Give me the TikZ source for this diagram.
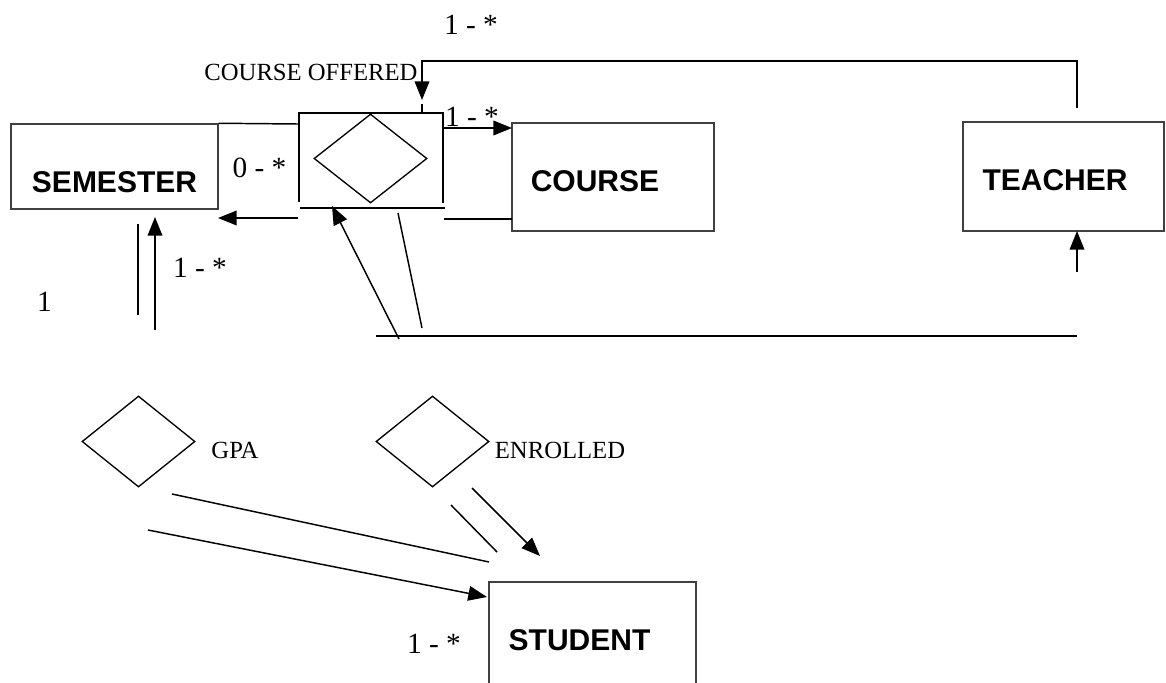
\documentclass[tikz,border=0pt]{standalone}
\usepackage{fontspec}
\setmainfont{Liberation Serif}
\setsansfont{Liberation Sans}
\usetikzlibrary{arrows.meta, shapes.geometric}

\begin{document}
\begin{tikzpicture}[x=0.75pt,y=-0.75pt,>={Triangle[length=14pt,width=11pt]},
  entity/.style={draw=black!75, line width=1.1pt, rectangle, inner sep=0pt},
  enttext/.style={font=\sffamily\bfseries\fontsize{22.5}{26}\selectfont, inner sep=0pt},
  relation/.style={draw, diamond, line width=1pt, inner sep=0pt, minimum width=84.75pt, minimum height=68.25pt},
  reltext/.style={font=\fontsize{18.5}{22}\selectfont, inner sep=0pt},
  card/.style={font=\fontsize{22}{26}\selectfont, inner sep=0pt},
  link/.style={line width=1.1pt}]

\clip (0,0) rectangle (1166,682);

% Entities
\node[entity, minimum width=155.25pt, minimum height=63.75pt] (semester) at (114.5,166.5) {};
\node[enttext] (semtext) at (114.5,182) {SEMESTER};

\node[entity, minimum width=151.5pt, minimum height=81pt] (course) at (613,177) {};
\node[enttext] (coutext) at (595,181) {COURSE};

\node[entity, minimum width=150.75pt, minimum height=81.75pt] (teacher) at (1063.5,176.5) {};
\node[enttext] (teatext) at (1055,180) {TEACHER};

\node[entity, minimum width=155.25pt, minimum height=103.5pt] (student) at (592.5,651) {};
\node[enttext] (stutext) at (579.5,640) {STUDENT};

% Relationships
\node[relation, minimum height=66.75pt] (offered) at (370.5,158.5) {};
\draw[link] (299,202) |- (443,113) -- (443,203);
\draw[link] (300,208) -- (445,208);
\node[reltext] (offtext) at (311,72) {COURSE OFFERED};

\node[relation] (gpa) at (138.5,441.5) {};
\node[reltext] (gpatext) at (235,450) {GPA};

\node[relation] (enrolled) at (432.5,441.5) {};
\node[reltext] (enrtext) at (560,450) {ENROLLED};

% Cardinalities
\node[card] (c1) at (471,25) {1 - *};
\node[card] (c2) at (472,117) {1 - *};
\node[card] (c3) at (259.5,168) {0 - *};
\node[card] (c4) at (200,268) {1 - *};
\node[card] (c5) at (44.5,302) {1};
\node[card] (c6) at (434,644) {1 - *};

% Connection points
\coordinate (offW) at (298,218);
\coordinate (semE) at (218,218);
\coordinate (offNW) at (298,124);
\coordinate (offE) at (444,128);
\coordinate (couW) at (512,128);
\coordinate (offSE) at (444,219);
\coordinate (couSW) at (512,219);
\coordinate (teaN) at (1077,108);
\coordinate (loopR) at (1077,61);
\coordinate (offN) at (422,100);
\coordinate (tickA) at (422,104);
\coordinate (tickB) at (422,112.5);
\coordinate (teaS) at (1077,231);
\coordinate (teaLow) at (1077,272);
\coordinate (baseL) at (376,336);
\coordinate (baseR) at (1077,336);
\coordinate (upA) at (399,339);
\coordinate (offS) at (332,206);
\coordinate (dnA) at (398,213);
\coordinate (dnB) at (422,328);
\coordinate (semA) at (138,224);
\coordinate (semB) at (138,315);
\coordinate (semC) at (155,330);
\coordinate (semS) at (155,217);
\coordinate (gpaA) at (172,494);
\coordinate (gpaB) at (489,562);
\coordinate (gpaC) at (148,530);
\coordinate (stuW) at (487,597);
\coordinate (enrA) at (451,505);
\coordinate (enrB) at (497,552);
\coordinate (enrC) at (472,488);
\coordinate (stuN) at (540,556);

% Connections
\draw[link,->] (offW) -- (semE);
\draw[link] (semester.north east) -- (offNW);
\draw[link,->] (offE) -- (couW);
\draw[link] (offSE) -- (couSW);
\draw[link,->] (teaN) -- (loopR) -| (offN);
\draw[link] (tickA) -- (tickB);
\draw[link,->] (teaLow) -- (teaS);
\draw[link] (baseL) -- (baseR);
\draw[link,->] (upA) -- (offS);
\draw[link] (dnA) -- (dnB);
\draw[link] (semA) -- (semB);
\draw[link,->] (semC) -- (semS);
\draw[link] (gpaA) -- (gpaB);
\draw[link,->] (gpaC) -- (stuW);
\draw[link] (enrA) -- (enrB);
\draw[link,->] (enrC) -- (stuN);

\end{tikzpicture}
\end{document}
